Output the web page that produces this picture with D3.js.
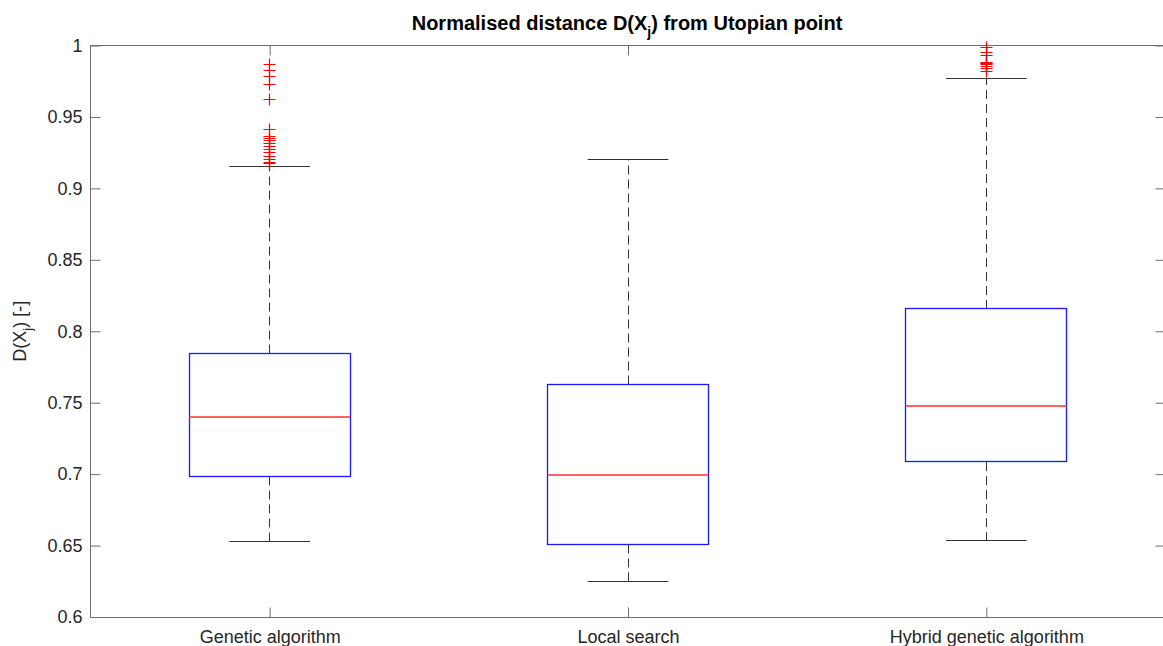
<!DOCTYPE html>
<html>
<head>
<meta charset="utf-8">
<script src="https://cdn.jsdelivr.net/npm/d3@7"></script>
<style>
  html, body { margin: 0; padding: 0; background: #fff; }
  svg { display: block; }
  text { font-family: "Liberation Sans", Arial, sans-serif; fill: #262626; }
</style>
</head>
<body>
<svg id="chart" width="1163" height="646"></svg>
<script>
// Box-plot statistics for each method
const categories = ["Genetic algorithm", "Local search", "Hybrid genetic algorithm"];
const lowerWhisker = [0.6527, 0.6245, 0.6538];
const q1 = [0.6984, 0.6508, 0.7084];
const median = [0.7403, 0.6993, 0.7480];
const q3 = [0.7844, 0.7627, 0.8156];
const upperWhisker = [0.9150, 0.9203, 0.9769];

// Outliers above the upper whisker
const outliersGA = [0.9867, 0.9825, 0.9785, 0.9727, 0.9620, 0.9410, 0.9366, 0.9352,
  0.9336, 0.9317, 0.9296, 0.9273, 0.9250, 0.9224, 0.9201, 0.9180, 0.9177];
const outliersLS = [];
const outliersHGA = [0.9983, 0.9953, 0.9930, 0.9881, 0.9877, 0.9874, 0.9867,
  0.9853, 0.9837, 0.9820];

const yTicks = [0.6, 0.65, 0.7, 0.75, 0.8, 0.85, 0.9, 0.95, 1];

const outliers = [outliersGA, outliersLS, outliersHGA];
const boxes = categories.map((c, i) => ({
  name: c, pos: i + 1,
  lo: lowerWhisker[i], q1: q1[i], med: median[i], q3: q3[i], hi: upperWhisker[i],
  out: outliers[i]
}));

const svg = d3.select("#chart");
const plotLeft = 90.5, plotRight = 1165.5, plotTop = 45.5, plotBottom = 617;

const x = d3.scaleLinear().domain([0.5, 3.5]).range([plotLeft, plotRight]);
const y = d3.scaleLinear().domain([0.6, 1]).range([plotBottom, plotTop]);
// snap a coordinate to the pixel grid for crisp 1px lines
const crisp = v => Math.round(v - 0.5) + 0.5;

const axisColor = "#6e6e6e";
const tickLen = 10;
const fontFam = "'Liberation Sans', Arial, sans-serif";

// Plot box: frame lines
const frame = svg.append("g").attr("stroke", axisColor).attr("stroke-width", 1).attr("fill", "none");
frame.append("line").attr("x1", plotLeft).attr("x2", plotRight).attr("y1", plotBottom + 0.5).attr("y2", plotBottom + 0.5);
frame.append("line").attr("x1", plotLeft).attr("x2", plotRight).attr("y1", plotTop).attr("y2", plotTop);
frame.append("line").attr("x1", plotLeft).attr("x2", plotLeft).attr("y1", plotTop).attr("y2", plotBottom);
frame.append("line").attr("x1", plotRight).attr("x2", plotRight).attr("y1", plotTop).attr("y2", plotBottom);

// Left y axis (inward ticks)
const yAxis = d3.axisLeft(y).tickValues(yTicks).tickSize(-tickLen).tickPadding(8)
  .tickFormat(d => String(+d.toFixed(2)));
const gy = svg.append("g").attr("transform", `translate(${plotLeft},0)`).call(yAxis);
gy.select(".domain").remove();
gy.selectAll(".tick line").attr("stroke", axisColor);
gy.selectAll(".tick text").attr("font-size", 18).attr("fill", "#262626").style("font-family", fontFam);

// Right y axis ticks (inward)
const yAxisR = d3.axisRight(y).tickValues(yTicks).tickSize(-tickLen).tickFormat("");
const gyr = svg.append("g").attr("transform", `translate(${plotRight},0)`).call(yAxisR);
gyr.select(".domain").remove();
gyr.selectAll(".tick line").attr("stroke", axisColor);

// Bottom x axis with category labels
const xAxis = d3.axisBottom(x).tickValues([1, 2, 3]).tickSize(-tickLen).tickPadding(13)
  .tickFormat((d, i) => categories[i]);
const gx = svg.append("g").attr("transform", `translate(0,${plotBottom + 0.5})`).call(xAxis);
gx.select(".domain").remove();
gx.selectAll(".tick line").attr("stroke", axisColor);
gx.selectAll(".tick text").attr("font-size", 18).attr("fill", "#262626").style("font-family", fontFam);

// Top ticks (inward)
const xAxisT = d3.axisTop(x).tickValues([1, 2, 3]).tickSize(-tickLen).tickFormat("");
const gxt = svg.append("g").attr("transform", `translate(0,${plotTop})`).call(xAxisT);
gxt.select(".domain").remove();
gxt.selectAll(".tick line").attr("stroke", axisColor);

// Clip region for the data marks
svg.append("clipPath").attr("id", "plotClip").append("rect")
  .attr("x", plotLeft).attr("y", plotTop - 6).attr("width", plotRight - plotLeft).attr("height", plotBottom - plotTop + 6);

const plot = svg.append("g").attr("clip-path", "url(#plotClip)");
const boxHalf = 0.225, capHalf = 0.1125;

const g = plot.selectAll("g.box").data(boxes).join("g").attr("class", "box");

// Whiskers (dashed)
g.append("line")
  .attr("x1", d => crisp(x(d.pos))).attr("x2", d => crisp(x(d.pos)))
  .attr("y1", d => y(d.q3)).attr("y2", d => y(d.hi))
  .attr("stroke", "#333").attr("stroke-dasharray", "9,5");
g.append("line")
  .attr("x1", d => crisp(x(d.pos))).attr("x2", d => crisp(x(d.pos)))
  .attr("y1", d => y(d.q1)).attr("y2", d => y(d.lo))
  .attr("stroke", "#333").attr("stroke-dasharray", "9,5");

// Whisker caps
["hi", "lo"].forEach(k => {
  g.append("line")
    .attr("x1", d => x(d.pos - capHalf)).attr("x2", d => x(d.pos + capHalf))
    .attr("y1", d => crisp(y(d[k]))).attr("y2", d => crisp(y(d[k])))
    .attr("stroke", "#333").attr("stroke-width", 1.2);
});

// Boxes
g.append("rect")
  .attr("x", d => crisp(x(d.pos - boxHalf)))
  .attr("width", d => Math.round(x(d.pos + boxHalf) - x(d.pos - boxHalf)))
  .attr("y", d => crisp(y(d.q3))).attr("height", d => Math.round(y(d.q1) - y(d.q3)))
  .attr("fill", "none").attr("stroke", "#1a1aff").attr("stroke-width", 1.3);

// Medians
g.append("line")
  .attr("x1", d => x(d.pos - boxHalf)).attr("x2", d => x(d.pos + boxHalf))
  .attr("y1", d => Math.round(y(d.med))).attr("y2", d => Math.round(y(d.med)))
  .attr("stroke", "#ff3030").attr("stroke-width", 1.6);

// Outliers as red plus markers
const m = 6;
g.each(function (d) {
  const cx = crisp(x(d.pos));
  d3.select(this).selectAll("path.out").data(d.out).join("path").attr("class", "out")
    .attr("d", v => { const cy = crisp(y(v)); return `M${cx - m},${cy}H${cx + m}M${cx},${cy - m}V${cy + m}`; })
    .attr("stroke", "#ff0000").attr("stroke-width", 1.2).attr("fill", "none");
});

// Title with subscript
const title = svg.append("text").attr("x", (plotLeft + plotRight) / 2 - 1).attr("y", 29.5)
  .attr("text-anchor", "middle").attr("font-size", 20).attr("font-weight", "bold")
  .style("fill", "#000");
title.append("tspan").text("Normalised distance D(X");
title.append("tspan").attr("dy", 7).attr("font-size", 14).text("j");
title.append("tspan").attr("dy", -7).text(") from Utopian point");

// Y axis label with subscript
const ylab = svg.append("text")
  .attr("transform", `translate(26,${(plotTop + plotBottom) / 2}) rotate(-90)`)
  .attr("text-anchor", "middle").attr("font-size", 18);
ylab.append("tspan").text("D(X");
ylab.append("tspan").attr("dy", 6).attr("font-size", 13).text("j");
ylab.append("tspan").attr("dy", -6).text(") [-]");
</script>
</body>
</html>
